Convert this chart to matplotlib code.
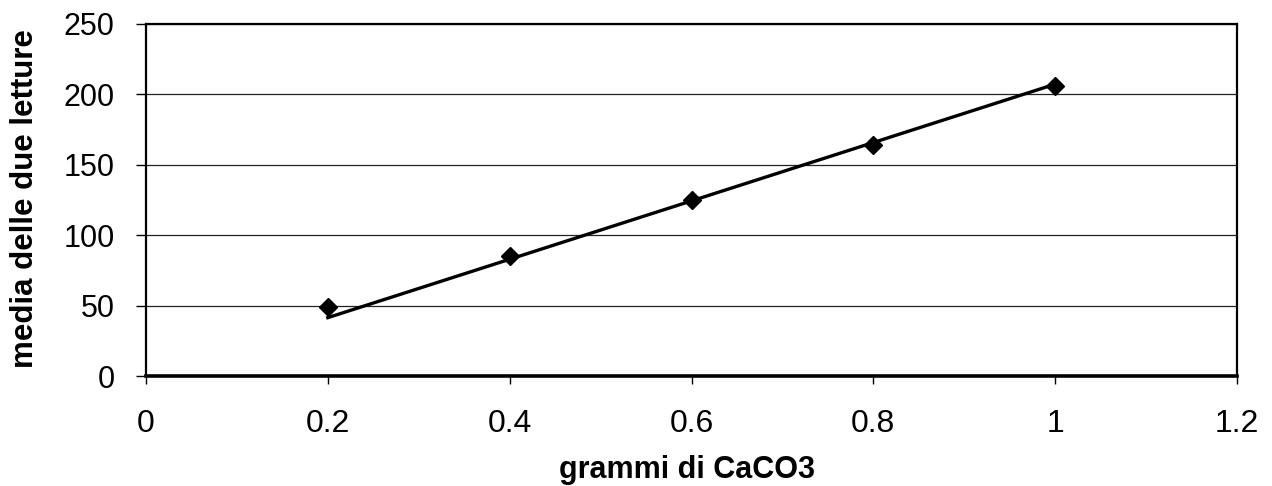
import matplotlib
matplotlib.use("Agg")
import matplotlib.pyplot as plt
import numpy as np

plt.rcParams['font.family'] = ['Liberation Sans', 'DejaVu Sans']

# data
grams = [0.2, 0.4, 0.6, 0.8, 1.0]
mean_reading = [49, 85, 125, 164, 206]
x_ticks = [0, 0.2, 0.4, 0.6, 0.8, 1, 1.2]
x_tick_labels = ["0", "0.2", "0.4", "0.6", "0.8", "1", "1.2"]
y_ticks = [0, 50, 100, 150, 200, 250]

x = np.array(grams)
y = np.array(mean_reading)
# linear trendline forced through the origin (as in the spreadsheet)
slope = (x @ y) / (x @ x)

fig = plt.figure(figsize=(12.72, 4.86), dpi=100)
ax = fig.add_axes([146 / 1272, 1 - 376 / 486, 1091 / 1272, 352 / 486])

ax.plot(x, slope * x, color="black", lw=2.4, zorder=3)
ax.plot(x, y, linestyle="none", marker="D", markersize=9.5,
        color="black", zorder=4)

ax.set_xlim(0, 1.2)
ax.set_ylim(0, 250)
ax.set_xticks(x_ticks)
ax.set_xticklabels(x_tick_labels)
ax.set_yticks(y_ticks)
ax.yaxis.grid(True, color="#222222", lw=0.9)
ax.set_axisbelow(True)

for side in ["left", "top", "right"]:
    ax.spines[side].set_linewidth(1.6)
ax.spines["bottom"].set_linewidth(2.6)

ax.tick_params(axis="x", direction="out", length=6, width=1, labelsize=23, pad=18)
ax.tick_params(axis="y", direction="out", length=7.5, width=1, labelsize=22, pad=15)

fig.text(33 / 1272, 1 - 198.5 / 486, "media delle due letture", rotation=90,
         rotation_mode="anchor", ha="center", va="baseline",
         fontsize=22.5, fontweight="bold")
fig.text(687 / 1272, 1 - 478 / 486, "grammi di CaCO3",
         ha="center", va="baseline", fontsize=22, fontweight="bold")

fig.savefig("out.png", dpi=100)
